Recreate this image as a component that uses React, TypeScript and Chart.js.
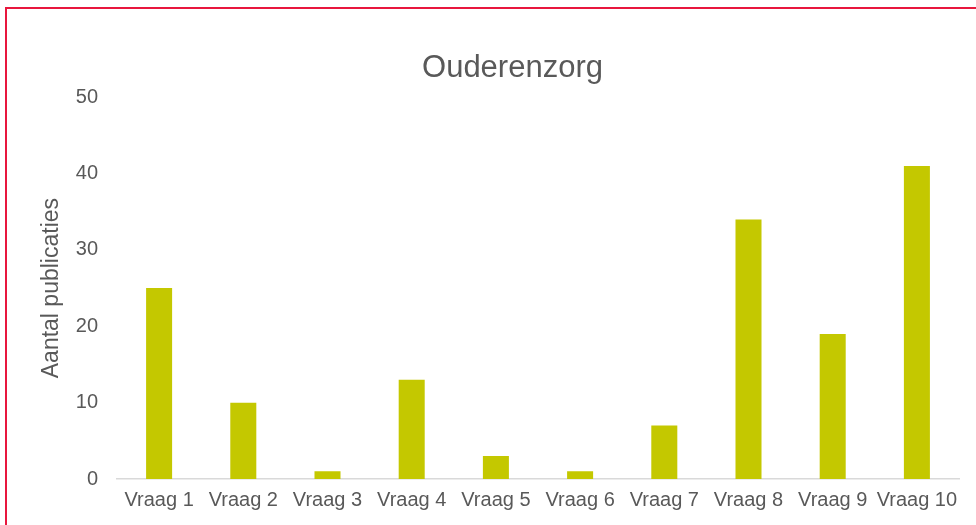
import React, { useEffect, useRef } from "react";
import { Chart, registerables } from "chart.js";

Chart.register(...registerables);

const categories = ["Vraag 1", "Vraag 2", "Vraag 3", "Vraag 4", "Vraag 5", "Vraag 6", "Vraag 7", "Vraag 8", "Vraag 9", "Vraag 10"];
const publicaties = [25, 10, 1, 13, 3, 1, 7, 34, 19, 41];
const yTicks = [0, 10, 20, 30, 40, 50];
const chartTitle = "Ouderenzorg";
const yTitle = "Aantal publicaties";

const FONT = "'Liberation Sans', Arial, sans-serif";
const TEXT = "#595959";

const titleShift = {
  id: "titleShift",
  afterLayout(chart: any) {
    if (chart.titleBlock) {
      chart.titleBlock.left = 66;
    }
  },
};

export default function App() {
  const ref = useRef<HTMLCanvasElement | null>(null);

  useEffect(() => {
    if (!ref.current) return;
    const chart = new Chart(ref.current, {
      type: "bar",
      data: {
        labels: categories,
        datasets: [
          {
            label: yTitle,
            data: publicaties,
            backgroundColor: "#C4C800",
            borderWidth: 0,
            barPercentage: 0.309,
            categoryPercentage: 1,
          },
        ],
      },
      plugins: [titleShift],
      options: {
        responsive: false,
        animation: false,
        layout: { padding: { top: 0, right: 17, bottom: 0, left: 0 } },
        plugins: {
          legend: { display: false },
          tooltip: { enabled: false },
          title: {
            display: true,
            text: chartTitle,
            color: TEXT,
            font: { family: FONT, size: 31, weight: "normal" },
            padding: { top: 50, bottom: 10 },
          },
        },
        scales: {
          x: {
            grid: { display: false, drawTicks: false },
            border: { display: true, color: "#D9D9D9", width: 1.5 },
            ticks: {
              color: TEXT,
              font: { family: FONT, size: 20 },
              padding: 9,
              maxRotation: 0,
              autoSkip: false,
            },
            afterFit: (s: any) => {
              s.height = 46;
            },
          },
          y: {
            min: 0,
            max: 50,
            afterBuildTicks: (s: any) => {
              s.ticks = yTicks.map((v) => ({ value: v }));
            },
            grid: { display: false, drawTicks: false },
            border: { display: false },
            ticks: {
              color: TEXT,
              font: { family: FONT, size: 20 },
              padding: 19,
            },
            title: {
              display: true,
              text: yTitle,
              color: TEXT,
              font: { family: FONT, size: 23, weight: "normal" },
              padding: { top: 38, bottom: 0 },
            },
            afterFit: (s: any) => {
              s.width = 117;
            },
          },
        },
      },
    });
    return () => chart.destroy();
  }, []);

  return (
    <div style={{ position: "fixed", left: 0, top: 0, width: 976, height: 525, background: "#fff", overflow: "hidden" }}>
      <canvas ref={ref} width={976} height={525} style={{ position: "absolute", left: 0, top: 0 }} />
      <div
        style={{
          position: "absolute",
          left: 5,
          top: 7,
          right: -10,
          bottom: -10,
          borderTop: "2px solid #E8173D",
          borderLeft: "2px solid #E8173D",
          pointerEvents: "none",
        }}
      />
    </div>
  );
}
